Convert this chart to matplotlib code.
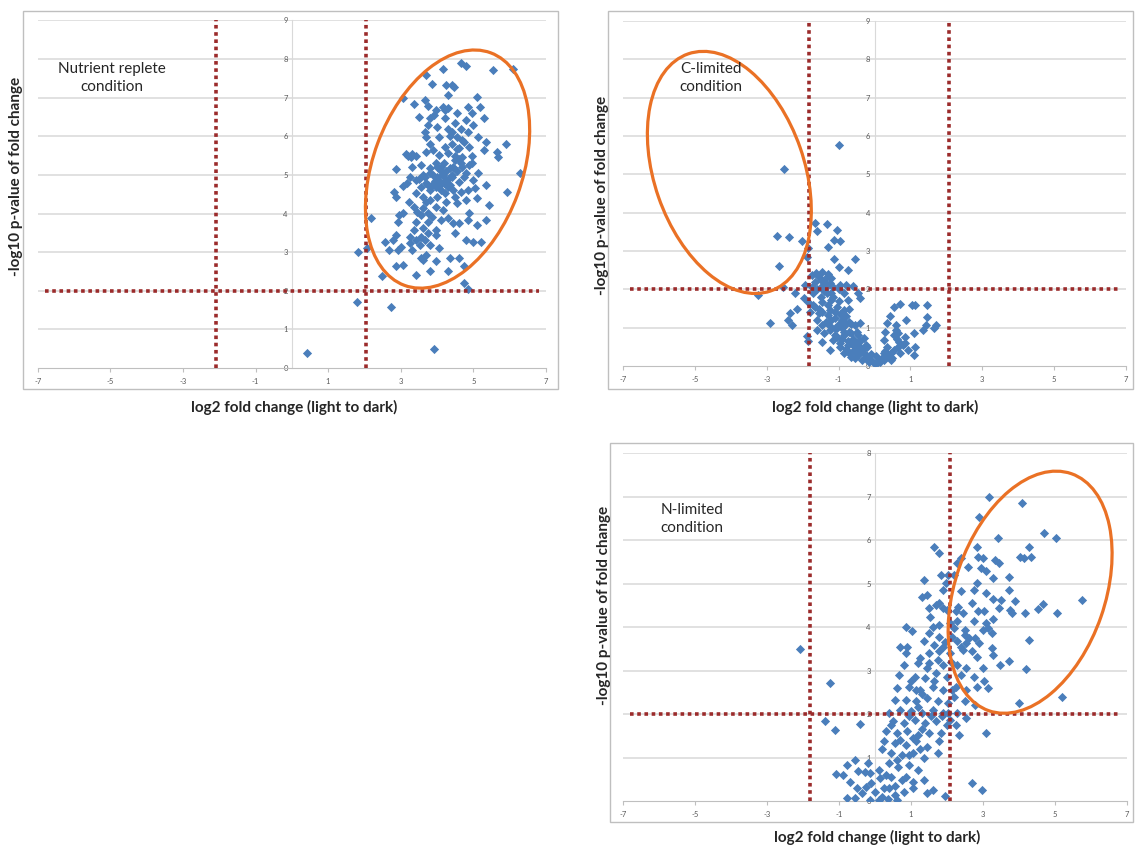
import matplotlib.pyplot as plt
import numpy as np
from matplotlib.patches import Ellipse, Rectangle
from matplotlib.transforms import ScaledTranslation

# log2 fold change / -log10 p-value pairs
replete_pts = [
    (0.43, 0.40), (3.91, 0.50), (1.79, 1.70), (2.73, 1.58), (1.82, 3.01), (2.08, 3.10),
    (2.18, 3.88), (2.48, 2.37), (3.42, 2.41), (3.81, 2.50), (4.31, 2.50), (4.75, 2.20),
    (4.85, 2.04), (4.60, 2.84), (4.36, 2.84), (3.96, 2.76), (3.57, 2.84), (3.71, 2.93),
    (4.75, 2.64), (2.86, 2.63), (3.06, 2.67), (2.68, 3.06), (2.58, 3.27), (2.78, 3.32),
    (2.92, 3.06), (2.86, 3.45), (3.02, 3.14), (3.26, 3.40), (3.42, 3.32), (3.67, 3.32),
    (3.81, 3.19), (3.96, 3.45), (3.76, 3.49), (4.80, 3.32), (5.00, 3.27), (5.20, 3.27),
    (5.10, 3.70), (5.34, 3.83), (4.85, 3.83), (4.50, 3.49), (4.89, 4.01), (5.44, 4.22),
    (5.10, 4.39), (5.94, 4.56), (5.34, 4.74), (5.14, 5.04), (6.29, 5.06), (5.69, 5.47),
    (5.64, 5.60), (5.89, 5.80), (5.30, 5.64), (5.34, 5.86), (5.14, 5.99), (5.00, 6.29),
    (5.30, 6.46), (5.18, 6.76), (5.10, 7.02), (4.85, 6.76), (4.55, 6.59), (5.54, 7.71),
    (6.09, 7.75), (4.65, 7.90), (4.80, 7.82), (4.16, 7.75), (3.70, 7.58), (3.87, 7.36),
    (4.26, 7.32), (4.41, 7.32), (4.47, 7.28), (4.31, 7.06), (3.06, 6.98), (3.36, 6.83),
    (3.66, 6.95), (3.76, 6.78), (3.96, 6.68), (4.16, 6.76), (4.21, 6.68), (4.31, 6.72),
    (3.81, 6.46), (3.91, 6.55), (4.21, 6.46), (4.50, 6.33), (4.80, 6.42), (4.01, 6.24),
    (4.31, 6.20), (3.66, 6.12), (3.71, 5.99), (4.06, 5.99), (4.41, 6.12), (4.55, 5.99),
    (4.75, 5.86), (4.85, 6.12), (3.81, 5.81), (4.21, 5.73), (4.55, 5.68), (4.89, 5.73),
    (3.32, 5.54), (3.42, 5.49), (3.27, 5.47), (3.71, 5.60), (4.06, 5.51), (4.31, 5.56),
    (4.70, 5.47), (4.65, 5.30), (4.89, 5.25), (2.87, 5.14), (3.32, 5.21), (3.57, 5.25),
    (3.81, 5.17), (3.96, 5.30), (4.11, 5.21), (4.36, 5.17), (4.50, 5.38), (4.80, 5.04),
    (3.17, 4.78), (3.42, 4.87), (3.66, 4.95), (3.81, 5.04), (4.01, 4.95), (4.16, 5.00),
    (4.26, 4.87), (4.41, 4.95), (4.60, 4.82), (5.00, 4.87), (3.57, 4.69), (3.76, 4.74),
    (3.96, 4.69), (4.11, 4.78), (4.31, 4.69), (4.45, 4.61), (4.65, 4.56), (4.85, 4.61),
    (2.82, 4.56), (2.87, 4.44), (3.42, 4.52), (3.61, 4.44), (3.81, 4.35), (4.01, 4.44),
    (4.21, 4.52), (4.50, 4.44), (4.80, 4.35), (3.22, 4.31), (3.37, 4.18), (3.61, 4.13),
    (3.96, 4.18), (4.16, 4.09), (4.55, 4.26), (3.06, 4.01), (3.57, 3.96), (3.76, 4.01),
    (2.92, 3.79), (3.42, 3.79), (3.76, 3.79), (4.11, 3.83), (4.31, 3.88), (4.60, 3.75),
    (3.37, 3.57), (3.61, 3.62), (3.26, 3.23), (3.52, 3.19), (3.96, 3.57),
    (4.00, 4.90), (4.10, 5.10), (4.20, 4.80), (3.90, 5.00), (4.05, 4.70), (4.15, 5.00),
    (4.25, 5.10), (3.95, 4.85), (4.30, 4.90), (4.10, 4.60), (3.85, 4.75), (4.00, 5.20),
    (4.20, 5.30), (3.70, 4.80), (4.40, 5.00), (4.35, 4.75), (3.80, 4.60), (4.45, 5.20),
    (4.50, 5.50), (4.60, 5.40), (4.70, 5.20), (4.55, 5.10), (4.60, 5.70), (4.40, 5.80),
    (3.60, 5.00), (3.50, 4.90), (3.15, 5.55), (3.20, 5.50), (3.90, 5.65), (4.70, 5.90),
    (4.95, 5.50), (4.75, 4.95), (4.25, 4.30), (3.70, 4.30), (3.45, 4.05), (3.85, 3.90),
    (4.45, 3.75), (3.30, 3.05), (3.60, 2.80), (4.05, 3.10), (3.55, 3.40), (2.95, 3.95),
    (3.05, 4.70), (3.25, 4.95), (4.95, 5.30), (5.05, 4.65), (3.75, 6.30), (4.35, 6.00),
    (4.65, 6.20), (4.95, 6.60), (3.50, 6.50),
]

c_limited_pts = [
    (-0.99, 5.77), (-2.53, 5.13), (-2.72, 3.39), (-2.38, 3.36), (-2.02, 3.27), (-2.65, 2.61),
    (-1.67, 3.74), (-1.60, 3.52), (-1.33, 3.70), (-1.05, 3.55), (-1.12, 3.30), (-0.97, 3.27),
    (-1.30, 3.11), (-1.85, 3.07), (-1.87, 2.85), (-1.13, 2.78), (-0.55, 2.78), (-0.75, 2.50),
    (-1.00, 2.59), (-3.25, 1.85), (-2.90, 1.11), (-2.55, 2.07), (-2.20, 1.90), (-2.35, 1.37),
    (-2.40, 1.20), (-2.30, 1.07), (-2.15, 1.50), (-1.87, 0.77), (-1.85, 0.66), (-1.45, 0.63),
    (-1.25, 0.42), (-1.94, 2.11), (-1.96, 1.77), (-1.84, 1.68), (-1.74, 2.37), (-1.64, 2.42),
    (-1.54, 2.33), (-1.45, 2.46), (-1.35, 2.29), (-1.25, 2.16), (-1.50, 2.07), (-1.33, 1.90),
    (-1.15, 2.07), (-0.97, 2.11), (-0.80, 2.11), (-0.60, 2.09), (-0.40, 1.77), (-0.45, 1.90),
    (-0.75, 1.72), (-1.70, 1.90), (-1.65, 1.55), (-1.45, 1.68), (-1.20, 1.72), (-1.05, 1.55),
    (-0.85, 1.46), (-1.55, 1.37), (-1.30, 1.33), (-1.10, 1.24), (-0.90, 1.20), (-0.70, 1.16),
    (-0.55, 1.07), (-0.40, 1.11), (-1.45, 1.07), (-1.25, 0.94), (-1.05, 0.98), (-0.85, 0.90),
    (-0.65, 0.85), (-0.45, 0.81), (-0.30, 0.72), (-1.15, 0.68), (-0.95, 0.59), (-0.75, 0.55),
    (-0.55, 0.50), (-0.35, 0.42), (-0.20, 0.50), (-0.85, 0.33), (-0.65, 0.24), (-0.45, 0.29),
    (-0.25, 0.20), (-0.10, 0.16), (0.00, 0.05), (0.10, 0.11), (0.25, 0.16), (0.35, 0.29),
    (0.45, 0.33), (0.55, 0.42), (0.64, 0.50), (0.79, 0.55), (0.69, 0.63), (0.84, 0.59),
    (1.14, 0.50), (1.09, 0.29), (0.94, 0.42), (0.25, 0.33), (0.35, 0.50), (0.50, 0.20),
    (0.29, 0.90), (0.35, 1.11), (0.44, 1.30), (0.54, 1.55), (0.72, 1.63), (0.59, 1.07),
    (0.64, 0.85), (0.89, 1.20), (1.04, 1.59), (1.14, 1.59), (1.46, 1.59), (1.09, 0.85),
    (1.34, 0.94), (1.46, 1.29), (1.42, 1.07), (1.66, 0.98), (1.72, 1.07), (0.62, 0.70),
    (0.55, 0.81), (0.25, 0.68),
    (-1.60, 2.00), (-1.50, 1.80), (-1.40, 2.20), (-1.30, 1.60), (-1.20, 1.90), (-1.10, 1.40),
    (-1.00, 1.70), (-0.90, 1.00), (-0.80, 1.30), (-0.70, 0.90), (-0.60, 0.70), (-0.50, 0.60),
    (-1.35, 1.15), (-1.20, 1.20), (-1.00, 1.10), (-0.90, 0.70), (-0.75, 0.65), (-0.60, 0.40),
    (-0.45, 0.30), (-0.30, 0.35), (-0.20, 0.25), (-1.55, 1.50), (-1.45, 1.40), (-1.10, 0.80),
    (-0.95, 0.50), (-0.65, 1.10), (-0.50, 0.90), (-1.30, 2.40), (-1.20, 2.30), (-1.00, 2.00),
    (-0.85, 1.90), (-0.70, 1.50), (-1.60, 1.20), (-1.70, 1.60), (-1.10, 1.00), (-0.40, 0.50),
    (0.15, 0.10), (0.20, 0.22), (0.40, 0.25), (0.30, 0.40), (-0.15, 0.10), (-0.35, 0.15),
    (-0.55, 0.20), (-0.80, 0.45), (-1.40, 1.95), (-1.25, 1.45), (-1.15, 1.80), (-0.95, 1.35),
    (-0.80, 1.10), (-0.65, 0.60), (-0.50, 0.45), (-1.05, 0.75), (-0.85, 0.80), (-0.70, 0.35),
    (-0.40, 0.65), (-0.25, 0.55), (-0.10, 0.30), (0.05, 0.25), (-1.50, 2.25), (-1.35, 2.05),
    (-1.65, 2.20), (-1.75, 2.05), (-1.80, 1.40), (-1.60, 0.95), (-1.40, 0.85), (-1.25, 1.05),
    (0.45, 0.15), (0.70, 0.35), (0.85, 0.75), (0.60, 0.95),
]

n_limited_pts = [
    (-2.07, 3.50), (-1.25, 2.71), (-1.38, 1.83), (-1.10, 1.63), (-0.42, 1.77), (3.17, 6.99),
    (4.09, 6.86), (2.89, 6.53), (3.42, 6.04), (4.69, 6.16), (5.03, 6.04), (4.27, 5.85),
    (4.04, 5.62), (4.14, 5.58), (4.34, 5.62), (2.84, 5.85), (1.65, 5.84), (1.79, 5.70),
    (2.39, 5.58), (2.87, 5.62), (2.99, 5.58), (3.34, 5.54), (3.44, 5.47), (2.59, 5.39),
    (2.29, 5.47), (2.94, 5.35), (3.09, 5.28), (1.84, 5.20), (2.04, 5.20), (2.19, 5.20),
    (3.71, 5.15), (3.29, 5.12), (1.35, 5.08), (2.84, 5.01), (1.97, 5.01), (3.71, 4.84),
    (2.74, 4.85), (2.39, 4.82), (1.89, 4.85), (3.09, 4.78), (3.29, 4.64), (3.49, 4.62),
    (3.89, 4.59), (4.67, 4.53), (4.54, 4.41), (5.76, 4.61), (5.06, 4.32), (3.74, 4.39),
    (3.81, 4.32), (4.18, 4.33), (3.44, 4.43), (1.30, 4.70), (1.45, 4.74), (1.50, 4.43),
    (1.69, 4.51), (1.79, 4.55), (1.89, 4.43), (1.54, 4.24), (1.99, 4.39), (2.24, 4.36),
    (2.44, 4.32), (2.87, 4.36), (3.04, 4.36), (3.29, 4.18), (3.09, 4.09), (2.74, 4.13),
    (2.29, 4.13), (2.09, 4.09), (1.79, 4.05), (0.85, 4.00), (1.02, 3.90), (2.19, 3.97),
    (2.49, 3.93), (2.99, 3.93), (3.14, 3.97), (3.24, 3.86), (1.50, 3.86), (1.79, 3.78),
    (2.14, 3.78), (2.49, 3.82), (2.79, 3.74), (4.27, 3.70), (0.70, 3.55), (0.90, 3.55),
    (1.35, 3.67), (1.65, 3.59), (1.89, 3.55), (2.29, 3.67), (2.54, 3.63), (2.89, 3.63),
    (3.24, 3.51), (0.85, 3.40), (1.25, 3.28), (1.50, 3.40), (1.79, 3.44), (2.09, 3.40),
    (2.44, 3.47), (2.69, 3.44), (2.84, 3.32), (3.29, 3.36), (0.80, 3.13), (1.20, 3.17),
    (1.50, 3.17), (1.89, 3.13), (2.29, 3.13), (2.54, 3.05), (2.99, 3.05), (3.47, 3.13),
    (3.71, 3.21), (4.19, 3.03), (0.68, 2.90), (1.10, 2.86), (1.40, 2.82), (1.69, 2.94),
    (1.99, 2.86), (2.39, 2.90), (2.74, 2.86), (3.04, 2.75), (0.62, 2.59), (0.95, 2.63),
    (1.25, 2.55), (1.60, 2.63), (1.89, 2.55), (2.24, 2.63), (2.54, 2.55), (2.84, 2.63),
    (3.14, 2.59), (5.20, 2.40), (3.99, 2.26), (2.49, 2.29), (2.79, 2.21), (0.55, 2.32),
    (0.85, 2.32), (1.15, 2.29), (1.45, 2.36), (1.74, 2.29), (2.04, 2.25), (2.19, 2.40),
    (0.40, 2.02), (0.70, 2.09), (1.00, 2.06), (1.30, 2.02), (1.60, 2.09), (1.89, 2.02),
    (2.29, 2.02), (2.54, 1.90), (2.24, 1.75), (2.34, 1.52), (3.09, 1.57), (0.50, 1.83),
    (0.80, 1.79), (1.10, 1.86), (1.40, 1.79), (1.69, 1.83), (1.99, 1.75), (0.30, 1.60),
    (0.60, 1.56), (0.90, 1.60), (1.20, 1.52), (1.50, 1.56), (1.84, 1.56), (0.25, 1.37),
    (0.55, 1.33), (0.85, 1.29), (1.15, 1.37), (1.45, 1.25), (1.74, 1.10), (0.45, 1.10),
    (0.75, 1.06), (1.05, 1.10), (1.35, 0.98), (0.10, 0.71), (0.40, 0.87), (0.65, 0.79),
    (0.95, 0.83), (1.20, 0.71), (-0.15, 0.64), (0.15, 0.52), (0.45, 0.56), (0.75, 0.48),
    (1.05, 0.44), (1.35, 0.48), (1.60, 0.25), (1.45, 0.18), (-0.20, 0.87), (-0.55, 0.94),
    (-0.78, 0.83), (-1.08, 0.62), (-0.88, 0.60), (-0.47, 0.70), (-0.28, 0.67), (-0.68, 0.44),
    (-0.50, 0.29), (-0.78, 0.08), (-0.55, 0.06), (-0.35, 0.18), (-0.25, 0.33), (-0.10, 0.41),
    (0.00, 0.21), (0.20, 0.10), (0.40, 0.29), (0.55, 0.14), (0.80, 0.21), (1.05, 0.29),
    (2.69, 0.41), (2.97, 0.25), (1.94, 0.12), (-0.15, 0.02), (0.10, 0.02), (0.35, 0.04),
    (0.60, 0.02), (2.04, 2.02), (2.09, 1.86), (1.79, 1.37),
    (0.95, 1.95), (1.20, 2.15), (1.55, 1.95), (1.05, 1.45), (1.30, 1.65), (0.70, 1.40),
    (0.95, 1.05), (1.25, 1.20), (0.60, 0.95), (0.30, 0.60), (0.55, 0.35), (0.25, 0.30),
    (0.85, 0.55), (1.30, 2.45), (1.65, 2.75), (1.45, 3.05), (1.75, 3.25), (2.10, 3.20),
    (1.95, 3.65), (2.40, 3.55), (2.60, 3.75), (2.30, 4.45), (1.60, 4.00), (2.70, 4.55),
    (1.15, 2.55), (1.00, 2.75), (2.15, 2.55), (1.85, 1.95), (0.45, 1.75), (0.20, 1.20),
]

x_ticks = [-7, -5, -3, -1, 1, 3, 5, 7]
x_tick_labels = ['-7', '-5', '-3', '-1', '1', '3', '5', '7']
panel_titles = ['Nutrient replete\ncondition', 'C-limited\ncondition', 'N-limited\ncondition']

BLUE = '#4A7EBB'
MAROON = '#9B2B2B'
ORANGE = '#EA7125'
GRID = '#D9D9D9'
TICKC = '#595959'

plt.rcParams['font.family'] = ['Lato', 'DejaVu Sans']

fig = plt.figure(figsize=(11.35, 8.48), dpi=100)

# chart-area frames (pixels: x0, y0 from top, x1, y1)
frames = [(23, 11, 558, 389), (608, 11, 1133, 389), (610, 443, 1133, 822)]
for x0, y0, x1, y1 in frames:
    fig.add_artist(Rectangle((x0 / 1135, 1 - y1 / 848), (x1 - x0) / 1135, (y1 - y0) / 848,
                             transform=fig.transFigure, fill=False, ec='#BFBFBF', lw=1.0))

axes_rects = [(0.0332, 0.566, 0.4478, 0.410),
              (0.5489, 0.5684, 0.4432, 0.4068),
              (0.5489, 0.0554, 0.4440, 0.4104)]
ymax_list = [9, 9, 8]
vlines = [(-2.1, 2.05), (-1.83, 2.06), (-1.81, 2.08)]
ellipses = [((4.29, 5.15), 1.49, 2.48, -20.4),
            ((-4.04, 5.05), 1.50, 2.51, 19.2),
            ((4.31, 4.80), 1.50, 2.51, -19.2)]
text_pos = [(112, 78), (711, 78), (692, 519)]
xlab_pos = [(294, 407), (875, 407), (877, 837)]
ylab_pos = [(16, 176), (602, 195), (604, 605)]
datasets = [replete_pts, c_limited_pts, n_limited_pts]

for i in range(3):
    ax = fig.add_axes(axes_rects[i])
    ymax = ymax_list[i]
    pts = np.array(datasets[i])
    ax.set_xlim(-7, 7)
    ax.set_ylim(0, ymax)

    for yv in range(1, ymax + 1):
        ax.axhline(yv, color=GRID, lw=1.1, zorder=0)

    ax.spines['top'].set_visible(False)
    ax.spines['right'].set_visible(False)
    ax.spines['left'].set_position(('data', 0))
    ax.spines['left'].set_color(GRID)
    ax.spines['bottom'].set_color('#BFBFBF')
    ax.spines['left'].set_zorder(0)

    ax.set_xticks(x_ticks)
    ax.set_xticklabels(x_tick_labels)
    ax.set_yticks(range(0, ymax + 1))
    ax.tick_params(axis='x', length=3, width=0.8, color='#BFBFBF', labelsize=5.5,
                   labelcolor=TICKC, pad=4)
    ax.tick_params(axis='y', length=0, labelsize=5.5, labelcolor=TICKC, pad=3)

    ax.scatter(pts[:, 0], pts[:, 1], marker='D', s=22, color=BLUE, linewidths=0, zorder=3)

    lo, hi = vlines[i]
    for xv in (lo, hi):
        ax.plot([xv, xv], [0, ymax], color=MAROON, lw=2.6, ls=(0, (1, 1)), zorder=4)
    ax.plot([-6.8, 6.8], [2, 2], color=MAROON, lw=2.6, ls=(0, (1, 1)), zorder=4)

    (cx, cy), w, h, ang = ellipses[i]
    tr = fig.dpi_scale_trans + ScaledTranslation(cx, cy, ax.transData)
    ax.add_patch(Ellipse((0, 0), w, h, angle=ang, transform=tr, fill=False,
                         ec=ORANGE, lw=2.3, zorder=5, clip_on=False))

    tx, ty = text_pos[i]
    fig.text(tx / 1135, 1 - ty / 848, panel_titles[i], ha='center', va='center',
             fontsize=11, color='#262626', linespacing=1.35)
    lx, ly = xlab_pos[i]
    fig.text(lx / 1135, 1 - ly / 848, 'log2 fold change (light to dark)', ha='center',
             va='center', fontsize=11, fontweight='bold', color='#262626')
    yx, yy = ylab_pos[i]
    fig.text(yx / 1135, 1 - yy / 848, '-log10 p-value of fold change', ha='center',
             va='center', rotation=90, fontsize=11, fontweight='bold', color='#262626')

fig.savefig('out.png', dpi=100)
